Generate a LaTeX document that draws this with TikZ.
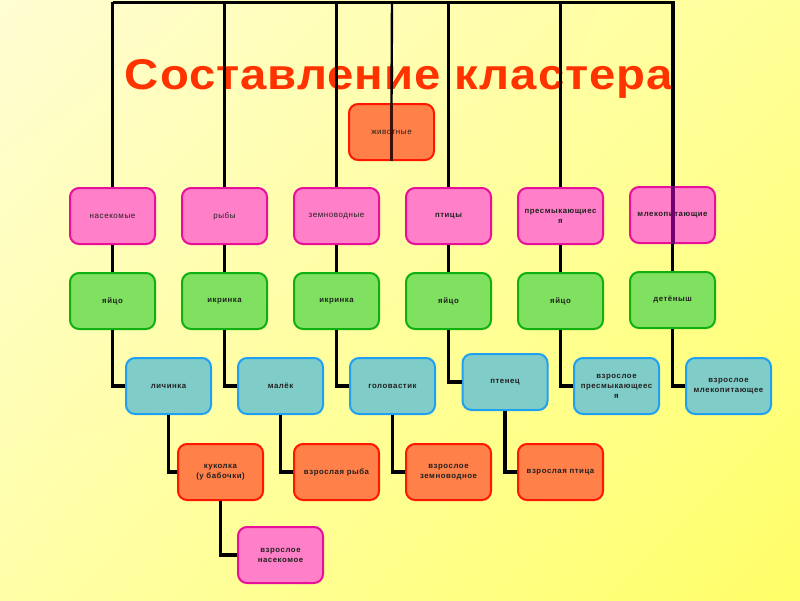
\documentclass[tikz,border=0pt]{standalone}
\usepackage{fontspec}
\setmainfont{Liberation Sans}
\newfontfamily\titlefont[LetterSpace=2]{Liberation Sans}
\newfontfamily\boxfont[LetterSpace=7]{Liberation Sans}
\usetikzlibrary{shadings}
\definecolor{bgTL}{HTML}{FFFDD2}
\definecolor{bgTR}{HTML}{FFFF98}
\definecolor{bgBL}{HTML}{FFFFA8}
\definecolor{bgBR}{HTML}{FFFF68}
\definecolor{titleC}{HTML}{FF3300}
\definecolor{txt}{HTML}{202020}
\definecolor{pinkF}{HTML}{FF80C8}
\definecolor{pinkD}{HTML}{E8109A}
\definecolor{greenF}{HTML}{80E060}
\definecolor{greenD}{HTML}{10B010}
\definecolor{cyanF}{HTML}{80CCC8}
\definecolor{cyanD}{HTML}{20A0F0}
\definecolor{orangeF}{HTML}{FF8048}
\definecolor{orangeD}{HTML}{FF1800}
\definecolor{overM}{HTML}{700070}
\definecolor{overA}{HTML}{401008}
\begin{document}
\begin{tikzpicture}[x=1pt,y=-1pt,
  box/.style={draw, rounded corners=9pt, line width=2pt, minimum width=85pt,
    minimum height=56pt, align=center, text=txt, inner sep=2pt,
    font=\boxfont\fontsize{8}{10}\selectfont},
  boldbox/.style={box, font=\boxfont\bfseries\fontsize{7.8}{10}\selectfont},
  pinkbox/.style={fill=pinkF, draw=pinkD},
  greenbox/.style={boldbox, fill=greenF, draw=greenD},
  cyanbox/.style={boldbox, fill=cyanF, draw=cyanD},
  orangebox/.style={fill=orangeF, draw=orangeD},
  topline/.style={line width=3pt, black},
  vline/.style={line width=2.4pt, black},
  link/.style={line width=3.2pt, black},
]
\useasboundingbox (0,0) rectangle (800,600);
\shade[upper left=bgTL, upper right=bgTR, lower left=bgBL, lower right=bgBR] (0,0) rectangle (800,600);

% top frame coordinates
\coordinate (T1) at (112.5,2);
\coordinate (T2) at (224.5,2);
\coordinate (T3) at (336.5,2);
\coordinate (T0) at (392,2);
\coordinate (T4) at (448.5,2);
\coordinate (T5) at (560.5,2);
\coordinate (T6) at (672.5,2);
\coordinate (Tend) at (675,2);

% title
\node[anchor=base, text=titleC, inner sep=0pt, xscale=1.1, transform shape,
  font=\titlefont\bfseries\fontsize{43}{50}\selectfont] (title) at (399,89) {Составление кластера};

% row 1
\node[box, pinkbox] (ins) at (112.5,216) {насекомые};
\node[box, pinkbox] (fish) at (224.5,216) {рыбы};
\node[box, pinkbox] (amph) at (336.5,216) {земноводные};
\node[boldbox, pinkbox] (bird) at (448.5,216) {птицы};
\node[boldbox, pinkbox] (rept) at (560.5,216) {пресмыкающиес\\я};
\node[boldbox, pinkbox] (mamm) at (672.5,215) {млекопитающие};

% row 2
\node[greenbox] (g1) at (112.5,301) {яйцо};
\node[greenbox] (g2) at (224.5,301) {икринка};
\node[greenbox] (g3) at (336.5,301) {икринка};
\node[greenbox] (g4) at (448.5,301) {яйцо};
\node[greenbox] (g5) at (560.5,301) {яйцо};
\node[greenbox] (g6) at (672.5,300) {детёныш};

% row 3
\node[cyanbox] (c1) at (168.5,386) {личинка};
\node[cyanbox] (c2) at (280.5,386) {малёк};
\node[cyanbox] (c3) at (392.5,386) {головастик};
\node[cyanbox] (c4) at (505,382) {птенец};
\node[cyanbox] (c5) at (616.5,386) {взрослое\\пресмыкающеес\\я};
\node[cyanbox] (c6) at (728.5,386) {взрослое\\млекопитающее};

% row 4
\node[boldbox, orangebox] (o1) at (220.5,472) {куколка\\(у бабочки)};
\node[boldbox, orangebox] (o2) at (336.5,472) {взрослая рыба};
\node[boldbox, orangebox] (o3) at (448.5,472) {взрослое\\земноводное};
\node[boldbox, orangebox] (o4) at (560.5,472) {взрослая птица};

% row 5
\node[boldbox, pinkbox] (p5) at (280.5,555) {взрослое\\насекомое};

% root
\node[box, orangebox] (root) at (391.5,132) {животные};

% top frame
\draw[topline, line cap=square] (T1) -- (Tend);
\draw[vline] (T1) -- (ins.north);
\draw[vline] (T2) -- (fish.north);
\draw[vline] (T3) -- (amph.north);
\draw[vline] (T4) -- (bird.north);
\draw[vline] (T5) -- (rept.north);
\draw[vline] (T0) -- (root.north);
\draw[vline, overA] (root.north) -- (root.south);
\draw[line width=4pt] (T6) -- (mamm.north);
\draw[line width=4pt, overM] (mamm.north) -- (mamm.south);

% row1 -> row2
\draw[link] (ins) -- (g1);
\draw[link] (fish) -- (g2);
\draw[link] (amph) -- (g3);
\draw[link] (bird) -- (g4);
\draw[link] (rept) -- (g5);
\draw[link] (mamm) -- (g6);

% row2 -> row3
\draw[link] (g1.south) |- (c1.west);
\draw[link] (g2.south) |- (c2.west);
\draw[link] (g3.south) |- (c3.west);
\draw[link] (g4.south) |- (c4.west);
\draw[link] (g5.south) |- (c5.west);
\draw[link] (g6.south) |- (c6.west);

% row3 -> row4
\draw[link] (c1.south) |- (o1.west);
\draw[link] (c2.south) |- (o2.west);
\draw[link] (c3.south) |- (o3.west);
\draw[link] (c4.south) |- (o4.west);

% row4 -> row5
\draw[link] (o1.south) |- (p5.west);
\end{tikzpicture}
\end{document}
